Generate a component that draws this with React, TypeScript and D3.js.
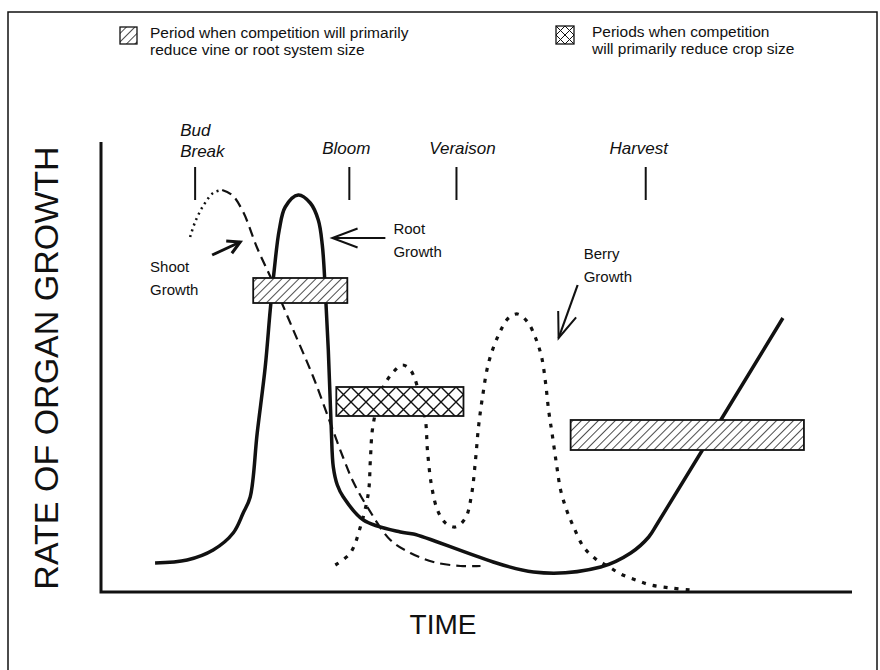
import React from 'react'
import * as d3 from 'd3'

type Pt = [number, number]

// phenological stages, placed along the time axis
const stages = ['Bud Break', 'Bloom', 'Veraison', 'Harvest']
const stageTimes = [18.8, 49.6, 71, 108.8]

// rate of organ growth (time, rate)
const rootGrowth: Pt[] = [
  [10.8, 5.8], [17.2, 6.4], [22.4, 8.4], [26.4, 11.8], [28.4, 15.8], [29.8, 19],
  [31.2, 31.8], [32.8, 45], [33.8, 56.4], [34.6, 64.4], [35.6, 72.4], [36.8, 77],
  [39.4, 79.4], [41.8, 77.8], [43.4, 74.4], [44.2, 69.4], [44.8, 60.4], [45.4, 48.4],
  [46, 32.4], [46.4, 25], [47.2, 21.4], [48.4, 19], [52.4, 14.4], [59.8, 12],
  [62.4, 11.6], [86.4, 4], [99.8, 5], [105.8, 7.8], [109.4, 11], [111.2, 13.8],
  [136.2, 54.8],
]
const shootGrowthEarly: Pt[] = [
  [17.8, 71], [18.8, 74], [20.4, 77.2], [22.4, 79.8], [24.2, 80.4],
]
const shootGrowth: Pt[] = [
  [24.2, 80.4], [26.2, 79.4], [28.4, 76], [31.2, 68.8], [34.4, 61.8], [38.4, 52.4],
  [42.4, 43], [45.8, 33.8], [48.4, 26.8], [50.4, 22], [53.2, 17], [57.8, 10.4],
  [61.8, 7.8], [66.4, 6], [71.8, 5.2], [75.8, 5.2],
]
const berryGrowth: Pt[] = [
  [46.8, 5.4], [49.8, 7.8], [51.8, 13], [53.4, 19.8], [53.8, 26.4], [54.2, 32.4],
  [55.2, 37.4], [56.4, 41], [58.2, 43.8], [60.2, 45.4], [61.8, 44.4], [63.4, 40.4],
  [64.8, 34.4], [65.2, 28.4], [66, 21.4], [67.2, 16.4], [68.8, 13.8], [70.8, 13],
  [72.8, 14.8], [74, 19.4], [74.8, 26.4], [75.4, 33], [76.2, 39], [77.4, 45.8],
  [79.4, 51.4], [81.4, 54.8], [83.2, 55.6], [85.2, 54], [86.8, 50.8], [88, 47],
  [88.8, 41.8], [89.4, 36.4], [90.2, 31], [91, 25.4], [91.8, 20.4], [93, 16.4],
  [94.4, 13], [96.4, 9], [98.8, 6.6], [101.2, 5.2], [103.8, 3.6], [106.8, 2.4],
  [109.8, 1.4], [113.8, 0.8], [117.8, 0.4],
]

// competition periods: [start, end, low, high]
const vinePeriods = [
  [30.4, 49.2, 57.8, 62.8],
  [93.8, 140.4, 28.4, 34.4],
]
const cropPeriods = [[47, 72.4, 35.2, 41]]

const legendLabels = [
  ['Period when competition will primarily', 'reduce vine or root system size'],
  ['Periods when competition', 'will primarily reduce crop size'],
]

// curve labels with arrow tail / tip (time, rate)
const curveLabels = [
  { lines: ['Shoot', 'Growth'], at: [9.8, 64], tail: [22.2, 67.4], tip: [27.8, 70] },
  { lines: ['Root', 'Growth'], at: [58.4, 71.6], tail: [56.8, 70.8], tip: [46.2, 70.8] },
  { lines: ['Berry', 'Growth'], at: [96.4, 66.6], tail: [95.2, 61.4], tip: [91.4, 50.8] },
]

const INK = '#111'
const FONT = '"Liberation Sans", Arial, Helvetica, sans-serif'

function arrowHead(tail: number[], tip: number[], len: number, ang: number) {
  const a = Math.atan2(tail[1] - tip[1], tail[0] - tip[0])
  const p1 = [tip[0] + len * Math.cos(a + ang), tip[1] + len * Math.sin(a + ang)]
  const p2 = [tip[0] + len * Math.cos(a - ang), tip[1] + len * Math.sin(a - ang)]
  return `M${p1[0]},${p1[1]}L${tip[0]},${tip[1]}L${p2[0]},${p2[1]}`
}

export default function App() {
  const width = 880
  const height = 670
  const x = d3.scaleLinear().domain([0, 150]).range([101, 852])
  const y = d3.scaleLinear().domain([0, 90]).range([592, 142])

  const line = d3
    .line<Pt>()
    .x(d => x(d[0]))
    .y(d => y(d[1]))
    .curve(d3.curveCatmullRom.alpha(0.5))

  const periodRect = (p: number[]) => ({
    x: x(p[0]),
    y: y(p[3]),
    width: x(p[1]) - x(p[0]),
    height: y(p[2]) - y(p[3]),
  })

  return (
    <svg
      width={width}
      height={height}
      style={{ position: 'absolute', left: 0, top: 0, background: '#fff' }}
      fontFamily={FONT}
    >
      <defs>
        <pattern id='hatch' patternUnits='userSpaceOnUse' width='6' height='6' patternTransform='rotate(45)'>
          <line x1='0' y1='0' x2='0' y2='6' stroke={INK} strokeWidth='1.5' />
        </pattern>
        <pattern id='cross' patternUnits='userSpaceOnUse' width='15' height='15' x='336' y='387'>
          <path d='M0,0L15,15M15,0L0,15' stroke={INK} strokeWidth='1.4' />
        </pattern>
      </defs>
      <rect x={0} y={0} width={width} height={height} fill='#fff' />
      <rect x={8} y={12} width={869} height={700} fill='none' stroke={INK} strokeWidth={1.5} />

      {/* legend */}
      <g fontSize={15.5} fill={INK}>
        <rect x={120} y={27} width={17} height={17} fill='url(#hatch)' stroke={INK} strokeWidth={1.3} />
        <text x={150} y={38}>{legendLabels[0][0]}</text>
        <text x={150} y={55}>{legendLabels[0][1]}</text>
        <rect x={556} y={26} width={18} height={18} fill='#fff' stroke={INK} strokeWidth={1.3} />
        <path
          d='M556,26L574,44M574,26L556,44M565,26L574,35L565,44L556,35Z'
          fill='none'
          stroke={INK}
          strokeWidth={1}
        />
        <text x={592} y={37}>{legendLabels[1][0]}</text>
        <text x={592} y={54}>{legendLabels[1][1]}</text>
      </g>

      {/* stage markers */}
      <g fontSize={17} fontStyle='italic' fill={INK}>
        {stages.map((s, i) => {
          const sx = x(stageTimes[i])
          return (
            <g key={s}>
              <line x1={sx} x2={sx} y1={y(85)} y2={y(78.4)} stroke={INK} strokeWidth={2} />
              {s === 'Bud Break' ? (
                <>
                  <text x={sx - 15} y={136}>Bud</text>
                  <text x={sx - 15} y={157}>Break</text>
                </>
              ) : (
                <text x={sx + (i === 1 ? -3 : i === 2 ? 6 : -7)} y={154} textAnchor='middle'>
                  {s}
                </text>
              )}
            </g>
          )
        })}
      </g>

      {/* curves */}
      <path d={line(rootGrowth) || ''} fill='none' stroke={INK} strokeWidth={3.5} strokeLinejoin='round' />
      <path d={line(shootGrowthEarly) || ''} fill='none' stroke={INK} strokeWidth={2.5} strokeDasharray='2,4' />
      <path d={line(shootGrowth) || ''} fill='none' stroke={INK} strokeWidth={2.2} strokeDasharray='10,6' />
      <path d={line(berryGrowth) || ''} fill='none' stroke={INK} strokeWidth={3.2} strokeDasharray='4,7' />

      {/* competition periods */}
      {vinePeriods.map((p, i) => (
        <g key={'v' + i}>
          <rect {...periodRect(p)} fill='#fff' />
          <rect {...periodRect(p)} fill='url(#hatch)' stroke={INK} strokeWidth={1.8} />
        </g>
      ))}
      {cropPeriods.map((p, i) => (
        <g key={'c' + i}>
          <rect {...periodRect(p)} fill='#fff' />
          <rect {...periodRect(p)} fill='url(#cross)' stroke={INK} strokeWidth={1.8} />
        </g>
      ))}

      {/* curve labels and arrows */}
      <g fontSize={15} fill={INK}>
        {curveLabels.map((c, i) => {
          const tail = [x(c.tail[0]), y(c.tail[1])]
          const tip = [x(c.tip[0]), y(c.tip[1])]
          const big = i !== 0
          return (
            <g key={c.lines[0]}>
              <text x={x(c.at[0])} y={y(c.at[1])}>{c.lines[0]}</text>
              <text x={x(c.at[0])} y={y(c.at[1]) + 23}>{c.lines[1]}</text>
              <line x1={tail[0]} y1={tail[1]} x2={tip[0]} y2={tip[1]} stroke={INK} strokeWidth={big ? 2.2 : 3} />
              <path
                d={arrowHead(tail, tip, big ? 27 : 14, big ? 0.36 : 0.5)}
                fill='none'
                stroke={INK}
                strokeWidth={big ? 2 : 3}
              />
            </g>
          )
        })}
      </g>

      {/* axes */}
      <path
        d={`M${x(0)},${y(90)}L${x(0)},${y(0)}L${x(150)},${y(0)}`}
        fill='none'
        stroke={INK}
        strokeWidth={3}
      />
      <text x={443} y={634} fontSize={28} textAnchor='middle' fill={INK}>
        TIME
      </text>
      <text transform='translate(58,368) rotate(-90)' fontSize={34} textAnchor='middle' fill={INK}>
        RATE OF ORGAN GROWTH
      </text>
    </svg>
  )
}
